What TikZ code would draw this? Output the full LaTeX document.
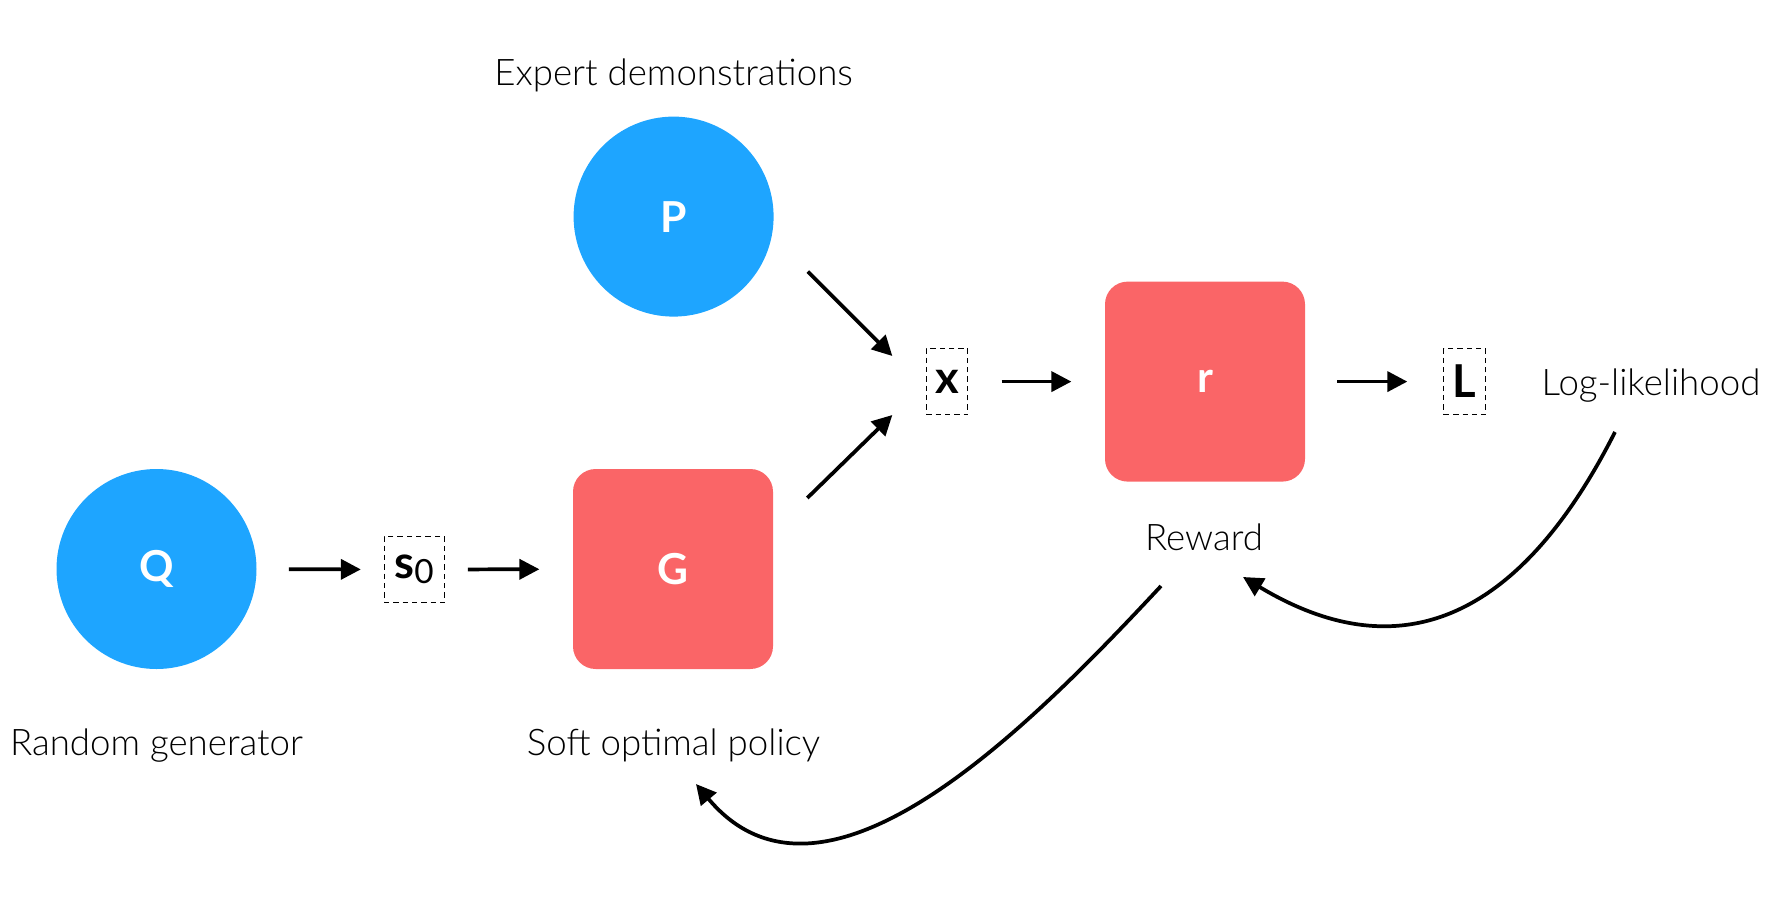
\documentclass[tikz,border=0pt]{standalone}
\usepackage{fontspec}
\setmainfont{Lato}
\newfontfamily\lightfont{Lato Light}
\usetikzlibrary{arrows.meta, positioning, calc}
\definecolor{genblue}{RGB}{30,165,255}
\definecolor{netred}{RGB}{250,101,103}

\tikzset{
  dist/.style={circle, fill=genblue, minimum size=150pt, inner sep=0pt, text=white, font=\bfseries\fontsize{32}{32}\selectfont},
  net/.style={rectangle, rounded corners=17pt, fill=netred, minimum size=150pt, inner sep=0pt, text=white, font=\bfseries\fontsize{32}{32}\selectfont},
  var/.style={draw, line width=0.75pt, dash pattern=on 4pt off 3pt, minimum height=50pt, inner sep=0pt, font=\bfseries\fontsize{34}{34}\selectfont},
  caption/.style={font=\lightfont\fontsize{27.5}{27.5}\selectfont, anchor=base},
  flow/.style={-{Triangle[length=15pt,width=15pt]}, line width=2.8pt},
}

\begin{document}
\begin{tikzpicture}[x=0.75pt, y=-0.75pt]
    \useasboundingbox (0,0) rectangle (1778,900);

    % Distributions
    \node[dist] (Q) at (156.5,569) {Q};
    \node[dist] (P) at (673.6,216.6) {P};

    % Networks
    \node[net] (G) at (673,569) {G};
    \node[net] (r) at (1205,381.6) {r};

    % Variables
    \node[var, minimum width=45pt] (s0) at (414,569.5) {s\raisebox{-4pt}{\mdseries\fontsize{25}{25}\selectfont 0}};
    \node[var, minimum width=31pt] (x) at (947,381.6) {x};
    \node[var, minimum width=31pt] (L) at (1464.5,381.6) {L};

    % Captions
    \node[caption] (expert) at (673.6,85) {Expert demonstrations};
    \node[caption] (randgen) at (156.5,755) {Random generator};
    \node[caption] (policy) at (673.6,755) {Soft optimal policy};
    \node[caption] (reward) at (1204,550) {Reward};
    \node[caption, anchor=base west] (loglik) at (1537,395) {Log-likelihood};

    % Forward pass
    \draw[flow, shorten <=24pt, shorten >=17pt] (Q) -- (s0);
    \draw[flow, shorten <=17.5pt, shorten >=25pt] (s0) -- (G);
    \draw[flow] ($(P.east)+(34,55)$) -- ($(x.west)+(-33.5,-25.6)$);
    \draw[flow] ($(G.east)+(34,-71)$) -- ($(x.west)+(-33.5,33.4)$);
    \draw[flow, shorten <=25pt, shorten >=25pt] (x) -- (r);
    \draw[flow, shorten <=24pt, shorten >=27pt] (r) -- (L);

    % Backward pass
    \coordinate (fromL) at (1615,432);
    \coordinate (toR) at (1243,577);
    \coordinate (fromR) at (1161,586);
    \coordinate (toG) at (696,784);
    \draw[flow] (fromL) .. controls (1530,600) and (1414,680) .. (toR);
    \draw[flow] (fromR) to[out=227, in=-50, looseness=1.0] (toG);
\end{tikzpicture}
\end{document}
